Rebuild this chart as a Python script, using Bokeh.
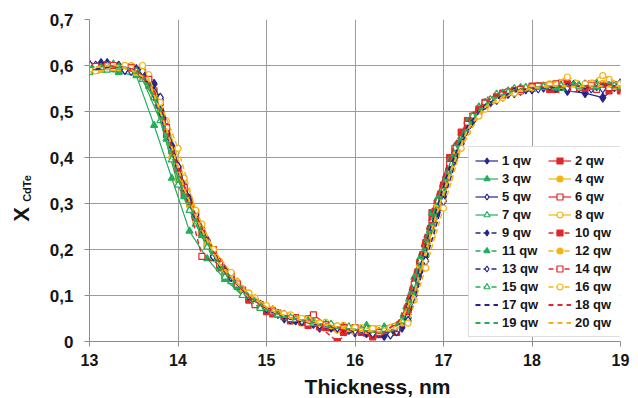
import math
from bokeh.plotting import figure
from bokeh.layouts import row, column
from bokeh.models import Range1d, FixedTicker, Legend, LegendItem, Label
from bokeh.embed import file_html
from bokeh.resources import INLINE

# ---------------- data ----------------
XA = [13.00, 13.20, 13.40, 13.60, 13.80, 14.00, 14.20, 14.40, 14.60, 14.80, 15.00, 15.20, 15.40, 15.60, 15.80, 16.00,
      16.20, 16.40, 16.60, 16.80, 17.00, 17.20, 17.40, 17.60, 17.80, 18.00, 18.20, 18.40, 18.60, 18.80, 19.00]
XB = [13.07, 13.27, 13.47, 13.67, 13.87, 14.07, 14.27, 14.47, 14.67, 14.87, 15.07, 15.27, 15.47, 15.67, 15.87, 16.07,
      16.27, 16.47, 16.67, 16.87, 17.07, 17.27, 17.47, 17.67, 17.87, 18.07, 18.27, 18.47, 18.67, 18.87, 19.00]
XC = [13.13, 13.33, 13.53, 13.73, 13.93, 14.13, 14.33, 14.53, 14.73, 14.93, 15.13, 15.33, 15.53, 15.73, 15.93, 16.13,
      16.33, 16.53, 16.73, 16.93, 17.13, 17.33, 17.53, 17.73, 17.93, 18.13, 18.33, 18.53, 18.73, 18.93, 19.00]

Y1 = [.600, .605, .592, .585, .525, .370, .265, .185, .135, .095, .072, .050, .046, .030, .028, .020,
      .015, .018, .050, .185, .315, .435, .505, .528, .540, .548, .552, .545, .540, .530, .560]
Y2 = [.590, .598, .595, .560, .450, .320, .235, .160, .120, .085, .060, .045, .035, .030, .020, .020,
      .015, .020, .110, .280, .400, .480, .520, .540, .545, .555, .548, .550, .560, .545, .550]
Y3 = [.590, .585, .578, .470, .355, .240, .180, .135, .100, .075, .058, .050, .044, .035, .030, .035,
      .032, .045, .180, .310, .425, .490, .525, .545, .552, .556, .550, .558, .562, .555, .553]
Y4 = [.590, .598, .600, .575, .500, .350, .260, .195, .145, .105, .068, .058, .040, .038, .025, .022,
      .025, .020, .070, .210, .330, .450, .498, .535, .548, .553, .560, .565, .555, .560, .550]
Y5 = [.600, .596, .588, .570, .470, .340, .245, .170, .128, .092, .068, .048, .044, .036, .030, .025,
      .018, .022, .100, .250, .370, .465, .512, .532, .545, .550, .552, .558, .550, .558, .556]
Y6 = [.600, .595, .590, .545, .415, .305, .210, .145, .112, .080, .062, .052, .058, .030, .025, .018,
      .022, .040, .170, .300, .420, .490, .525, .542, .550, .556, .562, .552, .548, .558, .552]
Y7 = [.585, .590, .598, .570, .480, .340, .255, .180, .130, .098, .075, .052, .048, .040, .032, .028,
      .022, .025, .055, .190, .330, .445, .510, .538, .550, .548, .555, .550, .560, .552, .558]
Y8 = [.588, .595, .600, .580, .480, .355, .255, .175, .130, .095, .070, .058, .048, .042, .035, .030,
      .028, .035, .090, .230, .355, .455, .505, .530, .545, .556, .560, .555, .562, .570, .558]
Y9 = [.605, .600, .592, .560, .425, .310, .220, .155, .112, .080, .060, .046, .038, .030, .025, .018,
      .012, .030, .150, .280, .400, .480, .520, .538, .548, .552, .556, .552, .555, .553, .556]
Y10 = [.598, .602, .594, .585, .520, .375, .280, .200, .145, .090, .065, .055, .042, .032, .000, .030,
       .010, .020, .065, .215, .340, .455, .505, .532, .545, .555, .548, .560, .550, .555, .545]
Y11 = [.595, .603, .592, .555, .440, .315, .230, .160, .120, .088, .062, .052, .045, .038, .032, .026,
       .022, .030, .140, .280, .395, .478, .520, .540, .552, .555, .552, .558, .553, .557, .552]
Y12 = [.592, .595, .585, .535, .400, .295, .210, .150, .108, .076, .062, .050, .042, .034, .028, .024,
       .022, .040, .165, .295, .415, .488, .524, .541, .551, .555, .557, .553, .556, .554, .556]
Y13 = [.602, .600, .590, .588, .530, .380, .275, .185, .140, .100, .072, .058, .045, .036, .030, .024,
       .018, .015, .045, .175, .305, .430, .495, .525, .542, .550, .556, .552, .558, .550, .562]
Y14 = [.598, .600, .596, .570, .465, .335, .185, .168, .125, .080, .066, .050, .040, .036, .030, .024,
       .020, .028, .125, .265, .385, .472, .518, .536, .548, .555, .560, .550, .556, .552, .555]
Y15 = [.596, .597, .588, .530, .395, .285, .205, .140, .100, .072, .058, .048, .040, .038, .032, .028,
       .026, .045, .175, .305, .420, .490, .526, .542, .552, .554, .556, .555, .554, .556, .555]
Y16 = [.592, .598, .600, .600, .520, .420, .285, .200, .150, .105, .078, .060, .050, .040, .034, .030,
       .028, .030, .040, .160, .290, .420, .490, .525, .540, .552, .558, .575, .560, .578, .560]
Y17 = [.592, .598, .594, .562, .455, .328, .238, .164, .124, .089, .064, .049, .041, .034, .027, .021,
       .019, .024, .115, .255, .378, .468, .514, .534, .547, .551, .554, .556, .554, .556, .554]
Y18 = [.600, .598, .590, .545, .415, .305, .218, .152, .112, .079, .061, .049, .041, .033, .027, .022,
       .020, .050, .190, .320, .430, .495, .528, .544, .551, .554, .555, .556, .555, .554, .555]
Y19 = [.596, .600, .596, .578, .505, .355, .268, .188, .138, .102, .070, .054, .046, .036, .030, .026,
       .021, .022, .062, .205, .325, .442, .502, .530, .546, .551, .554, .556, .554, .556, .555]
Y20 = [.596, .601, .591, .567, .462, .332, .242, .167, .126, .091, .066, .051, .043, .036, .029, .023,
       .021, .026, .105, .245, .365, .460, .510, .532, .546, .552, .556, .554, .556, .554, .556]

SERIES_X = [XA, XB, XC, XA, XB, XC, XA, XB, XC, XA, XB, XC, XA, XB, XC, XA, XB, XC, XA, XB]
SERIES_Y = [Y1, Y2, Y3, Y4, Y5, Y6, Y7, Y8, Y9, Y10, Y11, Y12, Y13, Y14, Y15, Y16, Y17, Y18, Y19, Y20]
LABELS = ["1 qw", "2 qw", "3 qw", "4 qw", "5 qw", "6 qw", "7 qw", "8 qw", "9 qw", "10 qw",
          "11 qw", "12 qw", "13 qw", "14 qw", "15 qw", "16 qw", "17 qw", "18 qw", "19 qw", "20 qw"]
XTICKS = [13, 14, 15, 16, 17, 18, 19]
YTICKS = [0, 0.1, 0.2, 0.3, 0.4, 0.5, 0.6, 0.7]
YTICK_LABELS = ["0", "0,1", "0,2", "0,3", "0,4", "0,5", "0,6", "0,7"]
X_TITLE = "Thickness, nm"
Y_TITLE_MAIN = "X"
Y_TITLE_SUB = "CdTe"

# ---------------- styles ----------------
NAVY, RED, GREEN, ORANGE = "#25258C", "#E3262A", "#22AE5A", "#F6B412"
COLORS = [NAVY, RED, GREEN, ORANGE] * 5
MARKERS = ["diamond", "square", "triangle", "circle"] * 4 + [None] * 4
HOLLOW = [False] * 4 + [True] * 4 + [False] * 4 + [True] * 4 + [False] * 4
DASHED = [False] * 8 + [True] * 12
SIZES = {"diamond": 9, "square": 6, "triangle": 7, "circle": 6}

FONT = "Liberation Sans"
TXT = "#151515"

# main plot (frame 531 x 322), 593 x 373 overall
p = figure(frame_width=531, frame_height=322,
           x_range=Range1d(13, 19), y_range=Range1d(0, 0.7),
           output_backend="svg", toolbar_location=None,
           min_border_left=44, min_border_right=18, min_border_top=19, min_border_bottom=32)
p.outline_line_color = None
p.background_fill_color = "white"
p.border_fill_color = "white"

p.xaxis.ticker = FixedTicker(ticks=XTICKS)
p.yaxis.ticker = FixedTicker(ticks=YTICKS)
p.yaxis.major_label_overrides = {t: lab for t, lab in zip(YTICKS, YTICK_LABELS)}
for ax in (p.xaxis[0], p.yaxis[0]):
    ax.axis_line_color = "#8c8c8c"
    ax.major_tick_line_color = "#8c8c8c"
    ax.minor_tick_line_color = None
    ax.major_tick_in = 0
    ax.major_tick_out = 5
    ax.major_label_text_font = FONT
    ax.major_label_text_font_style = "bold"
    ax.major_label_text_color = TXT
p.yaxis.major_label_text_font_size = "17px"
p.xaxis.major_label_text_font_size = "16px"
p.xaxis.major_label_standoff = 7
p.yaxis.major_label_standoff = 11
p.grid.grid_line_color = "#9c9c9c"
p.grid.grid_line_width = 1

items = []
for i in range(20):
    xs, ys, c = SERIES_X[i], SERIES_Y[i], COLORS[i]
    rs = []
    if DASHED[i]:
        if MARKERS[i] is None:
            lr = p.line(xs, ys, line_color=c, line_width=2, line_dash="5 4")
        else:
            lr = p.line(xs, ys, line_color=c, line_width=1.4, line_dash="5 3")
    else:
        lr = p.line(xs, ys, line_color=c, line_width=1.2)
    rs.append(lr)
    m = MARKERS[i]
    if m is not None:
        sr = p.scatter(xs, ys, marker=m, size=SIZES[m], line_color=c, line_width=1.2,
                       fill_color="white" if HOLLOW[i] else c)
        rs.append(sr)
    items.append(LegendItem(label=LABELS[i], renderers=rs))

# legend lays out column by column: odd entries in the first column, even in the second
ordered = items[0::2] + items[1::2]
legend = Legend(items=ordered, location=(379, 4), ncols=2,
                label_text_font=FONT, label_text_font_style="bold", label_text_font_size="13px",
                label_text_color=TXT,
                glyph_width=23, glyph_height=15, label_height=15, label_width=43, label_standoff=4,
                spacing=3, padding=6, margin=0,
                border_line_color="#bdbdbd", background_fill_color="white", background_fill_alpha=1)
p.add_layout(legend)


def blank(w, h):
    f = figure(width=w, height=h, x_range=Range1d(0, 1), y_range=Range1d(0, 1),
               output_backend="svg", toolbar_location=None,
               x_axis_location=None, y_axis_location=None, min_border=0)
    f.outline_line_color = None
    f.grid.visible = False
    f.background_fill_color = "white"
    f.border_fill_color = "white"
    return f


# y-axis title panel
py = blank(45, 373)
py.add_layout(Label(x=20.5, y=127, x_units="screen", y_units="screen", text=Y_TITLE_MAIN, angle=math.pi / 2,
                    text_font=FONT, text_font_style="bold", text_font_size="22px",
                    text_align="center", text_baseline="middle", text_color=TXT))
py.add_layout(Label(x=26.5, y=153, x_units="screen", y_units="screen", text=Y_TITLE_SUB, angle=math.pi / 2,
                    text_font=FONT, text_font_style="bold", text_font_size="11px",
                    text_align="center", text_baseline="middle", text_color=TXT))

# x-axis title panel
px = blank(638, 25)
px.add_layout(Label(x=377, y=12, x_units="screen", y_units="screen", text=X_TITLE,
                    text_font=FONT, text_font_style="bold", text_font_size="21px",
                    text_align="center", text_baseline="middle", text_color=TXT))

layout = column(row(py, p, spacing=0), px, spacing=0)
open("out.html", "w").write(file_html(layout, INLINE))
